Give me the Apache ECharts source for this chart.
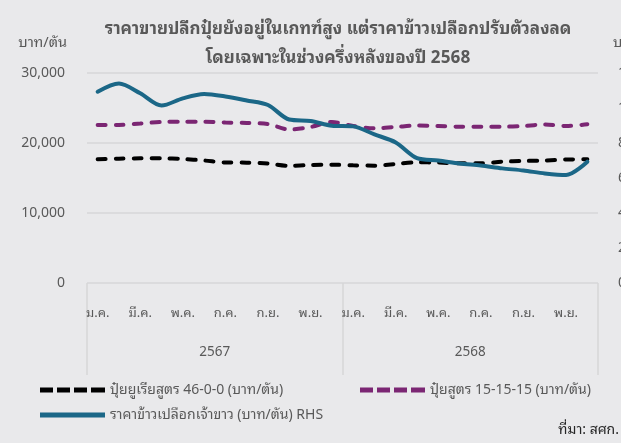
<!DOCTYPE html>
<html>
<head>
<meta charset="utf-8">
<style>
  html, body { margin: 0; padding: 0; background: #e9e9eb; }
  #chart { width: 621px; height: 443px; }
</style>
<script src="https://cdn.jsdelivr.net/npm/echarts@6/dist/echarts.min.js"></script>
</head>
<body>
<div id="chart"></div>
<script>
// months (every other one gets a label), two years
const months = ['ม.ค.', 'ก.พ.', 'มี.ค.', 'เม.ย.', 'พ.ค.', 'มิ.ย.', 'ก.ค.', 'ส.ค.', 'ก.ย.', 'ต.ค.', 'พ.ย.', 'ธ.ค.']
const years = ['2567', '2568']
const categories = years.flatMap(y => months.map(m => m + ' ' + y))

const ureaName = 'ปุ๋ยยูเรียสูตร 46-0-0 (บาท/ตัน)'
const npkName = 'ปุ๋ยสูตร 15-15-15 (บาท/ตัน)'
const riceName = 'ราคาข้าวเปลือกเจ้าขาว (บาท/ตัน) RHS'

const urea = [17670, 17760, 17810, 17810, 17710, 17500, 17210, 17190, 17070, 16740, 16860, 16900,
  16810, 16760, 17000, 17240, 17210, 17100, 17100, 17330, 17430, 17500, 17640, 17670]
const npk = [22570, 22570, 22790, 23000, 23040, 23040, 22930, 22860, 22700, 21930, 22290, 23000,
  22430, 22100, 22290, 22500, 22430, 22330, 22330, 22330, 22430, 22640, 22430, 22670]
const rice = [10930, 11400, 10840, 10140, 10550, 10800, 10660, 10430, 10170, 9340, 9260, 8990,
  8950, 8490, 8030, 7130, 7000, 6830, 6710, 6550, 6430, 6260, 6170, 6930]

const leftTicks = { min: 0, max: 30000, interval: 10000 }
const rightTicks = { min: 0, max: 12000, interval: 2000 }

const FONT = "'Noto Sans Thai Looped', Loma, Garuda, Tahoma, 'Noto Sans Thai', 'Noto Sans', sans-serif"
const GREY = '#595959'

// legend icons: four dashes or one solid bar
const dashIcon = 'path://M0,0h13v5h-13z M17,0h13v5h-13z M34,0h13v5h-13z M51,0h14v5h-14z'
const solidIcon = 'path://M0,0h65v5h-65z'

const chart = echarts.init(document.getElementById('chart'))
chart.setOption({
  backgroundColor: '#e9e9eb',
  textStyle: { fontFamily: FONT, color: GREY },
  title: {
    text: 'ราคาขายปลีกปุ๋ยยังอยู่ในเกทฑ์สูง แต่ราคาข้าวเปลือกปรับตัวลงลด\nโดยเฉพาะในช่วงครึ่งหลังของปี 2568',
    left: 333,
    top: 10,
    textAlign: 'center',
    textStyle: { fontFamily: FONT, fontSize: 17, fontWeight: 'bold', color: GREY, lineHeight: 29 }
  },
  grid: { left: 87, right: 23, top: 73, bottom: 160, outerBoundsMode: 'none', containLabel: false },
  legend: [
    { data: [{ name: ureaName, icon: dashIcon }], left: 35, top: 378 },
    { data: [{ name: npkName, icon: dashIcon }], left: 355, top: 378 },
    { data: [{ name: riceName, icon: solidIcon }], left: 35, top: 403 }
  ].map(l => Object.assign(l, {
    itemWidth: 65, itemHeight: 5,
    textStyle: { fontFamily: FONT, fontSize: 14, color: GREY }
  })),
  xAxis: [
    {
      type: 'category',
      data: categories,
      axisLine: { show: false },
      axisTick: { show: false },
      axisLabel: {
        interval: 1,
        margin: 24,
        fontSize: 13,
        color: GREY,
        formatter: v => v.split(' ')[0]
      }
    },
    {
      type: 'category',
      data: years,
      position: 'bottom',
      axisLine: { show: false },
      axisTick: { show: true, length: 92, lineStyle: { color: '#d6d6d8', width: 1.5 } },
      axisLabel: { margin: 62, fontSize: 13.5, color: GREY }
    }
  ],
  yAxis: [
    {
      type: 'value',
      ...leftTicks,
      name: 'บาท/ตัน',
      nameGap: 23,
      nameTextStyle: { fontSize: 14.5, color: GREY, align: 'right', padding: [0, 20, 0, 0] },
      axisLabel: { margin: 22, fontSize: 14, color: GREY },
      splitLine: { lineStyle: { color: '#d6d6d8', width: 1.5 } }
    },
    {
      type: 'value',
      ...rightTicks,
      position: 'right',
      name: 'บาท/ตัน',
      nameGap: 23,
      nameTextStyle: { fontSize: 14.5, color: GREY, align: 'left', padding: [0, 0, 0, 15] },
      axisLabel: { margin: 20, fontSize: 14, color: GREY },
      splitLine: { show: false }
    }
  ],
  series: [
    {
      name: ureaName,
      type: 'line',
      data: urea,
      symbol: 'none',
      smooth: 0.3,
      lineStyle: { color: '#000000', width: 4, type: [8, 10], cap: 'round' },
      itemStyle: { color: '#000000' }
    },
    {
      name: npkName,
      type: 'line',
      data: npk,
      symbol: 'none',
      smooth: 0.3,
      lineStyle: { color: '#7b2673', width: 4, type: [8, 10], cap: 'round' },
      itemStyle: { color: '#7b2673' }
    },
    {
      name: riceName,
      type: 'line',
      yAxisIndex: 1,
      data: rice,
      symbol: 'none',
      smooth: 0.3,
      lineStyle: { color: '#1b6787', width: 4, cap: 'round' },
      itemStyle: { color: '#1b6787' }
    }
  ],
  graphic: [
    {
      type: 'text',
      right: 2,
      top: 423,
      style: { text: 'ที่มา: สศก.', fontFamily: FONT, fontSize: 14, fill: '#262626' }
    }
  ]
})
</script>
</body>
</html>
